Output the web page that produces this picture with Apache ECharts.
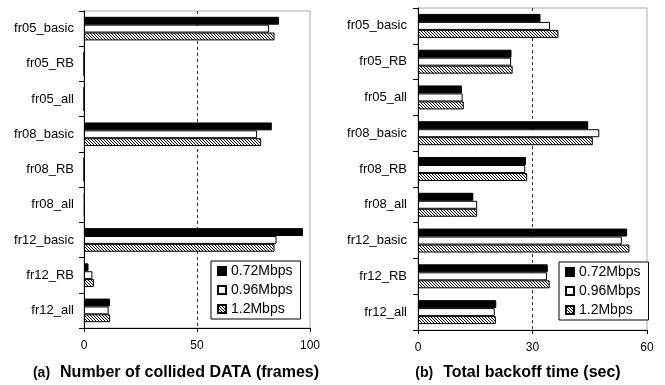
<!DOCTYPE html>
<html>
<head>
<meta charset="utf-8">
<script src="https://cdn.jsdelivr.net/npm/echarts@6/dist/echarts.min.js"></script>
<style>html,body{margin:0;padding:0;background:#fff;}#c{width:665px;height:385px;}</style>
</head>
<body>
<div id="c"></div>
<script>
const categories = ['fr05_basic','fr05_RB','fr05_all','fr08_basic','fr08_RB','fr08_all','fr12_basic','fr12_RB','fr12_all'];
const seriesNames = ['0.72Mbps','0.96Mbps','1.2Mbps'];
// (a) Number of collided DATA (frames)
const collided072 = [86.3, 0, 0, 83.1, 0, 0.3, 96.9, 2.0, 11.5];
const collided096 = [81.9, 0, 0, 76.6, 0, 0.3, 85.2, 3.7, 10.9];
const collided12  = [84.3, 0, 0, 78.4, 0, 0.3, 84.3, 4.4, 11.5];
// (b) Total backoff time (sec)
const backoff072 = [32.1, 24.5, 11.5, 44.6, 28.3, 14.5, 54.8, 34.0, 20.5];
const backoff096 = [34.6, 24.4, 11.7, 47.5, 28.1, 15.5, 53.4, 33.8, 20.1];
const backoff12  = [36.8, 24.8, 12.0, 45.8, 28.6, 15.5, 55.4, 34.5, 20.4];
const ticksA = [0, 50, 100];
const ticksB = [0, 30, 60];

const FONT = "'Liberation Sans', Arial, sans-serif";

// hatch pattern
const pc = document.createElement('canvas');
pc.width = 3; pc.height = 3;
const pctx = pc.getContext('2d');
pctx.fillStyle = '#fff'; pctx.fillRect(0,0,3,3);
pctx.fillStyle = '#000';
for (let i = 0; i < 3; i++) pctx.fillRect(i, i, 1, 1);
const hatch = {image: pc, repeat: 'repeat'};

const fills = ['#000', '#fff', hatch];

const chart = echarts.init(document.getElementById('c'), null, {renderer: 'canvas'});

function xAxisCfg(gridIndex, ticks) {
  return {
    gridIndex, type: 'value', min: ticks[0], max: ticks[ticks.length-1],
    interval: ticks[1] - ticks[0],
    axisLine: {show: true, lineStyle: {color: '#000', width: 1}},
    axisTick: {show: true, length: 4, lineStyle: {color: '#000'}},
    axisLabel: {color: '#000', fontSize: 12, fontFamily: FONT, margin: 12},
    splitLine: {show: true, lineStyle: {color: ['transparent', '#333', 'transparent'], type: [3, 3], width: 1}}
  };
}
function yAxisCfg(gridIndex, margin) {
  return {
    gridIndex, type: 'category', data: categories, inverse: true,
    axisLine: {show: true, lineStyle: {color: '#000', width: 1}},
    axisTick: {show: true, length: 5, lineStyle: {color: '#000'}},
    axisLabel: {color: '#000', fontSize: 13, fontFamily: FONT, margin: margin},
    splitLine: {show: false}
  };
}
function barSeries(name, data, idx, axisIdx) {
  return {
    name, type: 'bar', data, xAxisIndex: axisIdx, yAxisIndex: axisIdx,
    barGap: '0%', barCategoryGap: '33%',
    itemStyle: {color: fills[idx], borderColor: '#000', borderWidth: 1},
    emphasis: {disabled: true}, animation: false
  };
}
function legendCfg(left, top) {
  return {
    orient: 'vertical', left, top, data: seriesNames, icon: 'rect',
    backgroundColor: '#fff', borderColor: '#000', borderWidth: 1,
    padding: [3, 8, 3, 6], itemGap: 5, itemWidth: 8, itemHeight: 8,
    textStyle: {color: '#000', fontSize: 14, fontFamily: FONT},
    selectedMode: false
  };
}
const richTitle = {
  a: {fontSize: 14, color: '#000', fontFamily: FONT},
  ab: {fontSize: 14, fontWeight: 'bold', color: '#000', fontFamily: FONT},
  b: {fontSize: 16, fontWeight: 'bold', color: '#000', fontFamily: FONT}
};

chart.setOption({
  animation: false,
  textStyle: {fontFamily: FONT},
  grid: [
    {left: 84, top: 11, width: 226, height: 317, show: true, borderColor: '#aaa', borderWidth: 1, backgroundColor: '#fff'},
    {left: 418, top: 8, width: 229, height: 322, show: true, borderColor: '#aaa', borderWidth: 1, backgroundColor: '#fff'}
  ],
  xAxis: [xAxisCfg(0, ticksA), xAxisCfg(1, ticksB)],
  yAxis: [yAxisCfg(0, 10), yAxisCfg(1, 11)],
  legend: [legendCfg(211, 261), legendCfg(559, 262)],
  title: [
    {text: '{a|(a)}  {b|Number of collided DATA (frames)}', left: 176, top: 364, textAlign: 'center', padding: 0,
     textStyle: {rich: richTitle}},
    {text: '{ab|(b)}  {b|Total backoff time (sec)}', left: 518, top: 364, textAlign: 'center', padding: 0,
     textStyle: {rich: richTitle}}
  ],
  series: [
    barSeries(seriesNames[0], collided072, 0, 0),
    barSeries(seriesNames[1], collided096, 1, 0),
    barSeries(seriesNames[2], collided12, 2, 0),
    barSeries(seriesNames[0], backoff072, 0, 1),
    barSeries(seriesNames[1], backoff096, 1, 1),
    barSeries(seriesNames[2], backoff12, 2, 1)
  ]
});
</script>
</body>
</html>
